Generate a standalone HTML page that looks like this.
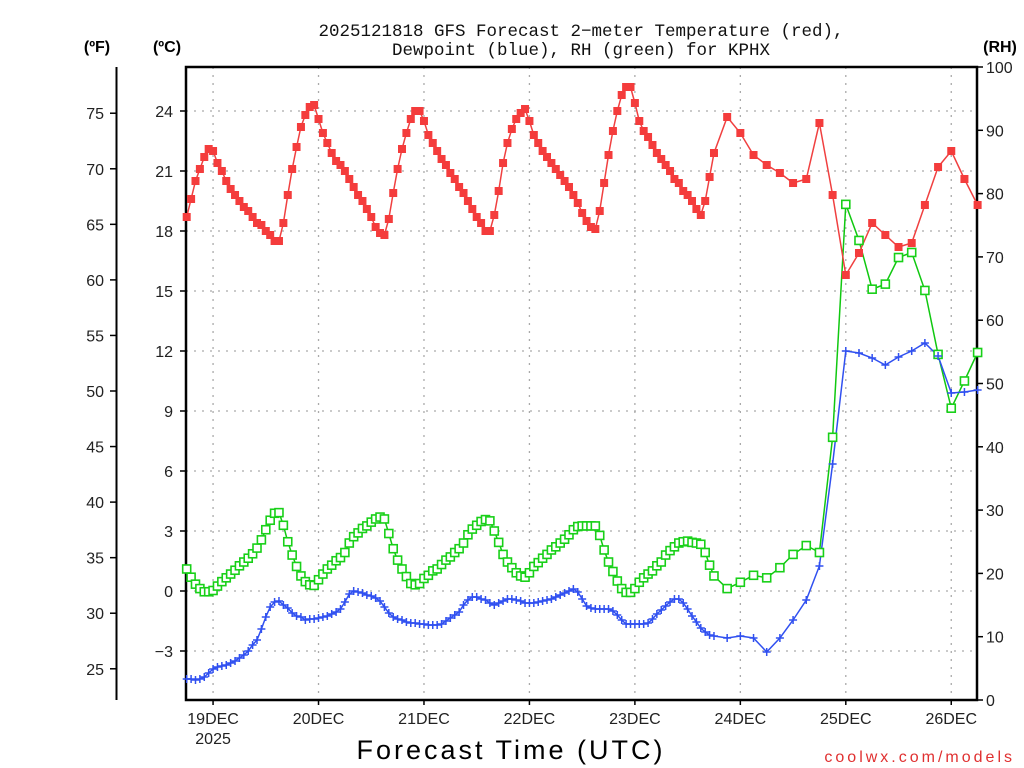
<!DOCTYPE html>
<html><head><meta charset="utf-8"><style>
html,body{margin:0;padding:0;background:#fff;}
svg{display:block;font-family:"Liberation Sans","DejaVu Sans",sans-serif;}
</style></head><body>
<svg id="chart" width="1024" height="768" viewBox="0 0 1024 768" xmlns="http://www.w3.org/2000/svg">
<text x="581" y="36" text-anchor="middle" font-size="17.5" fill="#111" font-family="Liberation Mono, monospace">2025121818 GFS Forecast 2−meter Temperature (red),</text>
<text x="581" y="55" text-anchor="middle" font-size="17.5" fill="#111" font-family="Liberation Mono, monospace">Dewpoint (blue), RH (green) for KPHX</text>
<text x="97" y="52" text-anchor="middle" font-size="16" font-weight="bold" fill="#000">(ºF)</text>
<text x="167" y="52" text-anchor="middle" font-size="16" font-weight="bold" fill="#000">(ºC)</text>
<text x="1000" y="52" text-anchor="middle" font-size="16" font-weight="bold" fill="#000">(RH)</text>
<text x="511" y="759" text-anchor="middle" font-size="27" fill="#000" letter-spacing="3">Forecast Time (UTC)</text>
<text x="1015" y="762" text-anchor="end" font-size="16" fill="#e03030" letter-spacing="3">coolwx.com/models</text>
<g id="grid"></g><g id="axes"></g><g id="series"></g>
</svg>
<script>
// Data: hourly h=0..120 from 2025-12-18 18Z, then every 3h to h=180
const tempC = [18.7,19.6,20.5,21.1,21.7,22.1,22.0,21.4,21.0,20.5,20.1,19.8,19.5,19.2,19.0,18.7,18.4,18.3,18.0,17.8,17.5,17.5,18.4,19.8,21.1,22.2,23.2,23.8,24.2,24.3,23.6,22.9,22.4,21.9,21.5,21.3,21.0,20.6,20.2,19.8,19.5,19.1,18.7,18.2,17.9,17.8,18.6,19.9,21.1,22.1,22.9,23.6,24.0,24.0,23.5,22.8,22.4,22.0,21.6,21.3,20.9,20.6,20.2,
19.9,19.5,19.1,18.7,18.4,18.0,18.0,18.8,20.0,21.4,22.4,23.1,23.6,23.9,24.1,23.5,22.8,22.4,22.0,21.7,21.4,21.1,20.8,20.5,20.2,19.8,19.4,18.9,18.5,18.2,18.1,19.0,20.4,21.8,23.0,24.0,24.8,25.2,25.2,24.4,23.5,23.0,22.7,22.3,21.9,21.6,21.3,21.0,20.6,20.4,20.0,19.8,19.5,19.1,18.8,19.5,20.7,21.9,
23.7,22.9,21.8,21.3,20.9,20.4,20.6,23.4,19.8,15.8,16.9,18.4,17.8,17.2,17.4,19.3,21.2,22.0,20.6,19.3];
const dewC = [-4.4,-4.4,-4.45,-4.4,-4.3,-4.1,-3.9,-3.8,-3.75,-3.7,-3.6,-3.5,-3.35,-3.2,-3.0,-2.7,-2.45,-1.9,-1.3,-0.8,-0.55,-0.5,-0.7,-0.85,-1.1,-1.25,-1.3,-1.45,-1.4,-1.4,-1.35,-1.3,-1.25,-1.15,-1.05,-0.9,-0.55,-0.15,0.0,-0.05,-0.1,-0.2,-0.25,-0.35,-0.5,-0.8,-1.1,-1.3,-1.4,-1.45,-1.55,-1.6,-1.6,-1.65,-1.65,-1.7,-1.7,-1.7,-1.65,-1.5,-1.35,-1.2,-1.05,
-0.7,-0.45,-0.3,-0.3,-0.4,-0.45,-0.6,-0.7,-0.6,-0.5,-0.4,-0.4,-0.45,-0.5,-0.6,-0.6,-0.6,-0.55,-0.5,-0.45,-0.4,-0.3,-0.2,-0.1,0.0,0.1,-0.05,-0.4,-0.75,-0.85,-0.9,-0.9,-0.9,-0.9,-1.0,-1.2,-1.45,-1.65,-1.65,-1.65,-1.65,-1.65,-1.6,-1.4,-1.15,-0.95,-0.75,-0.55,-0.4,-0.4,-0.6,-0.9,-1.25,-1.55,-1.85,-2.05,-2.2,-2.25,
-2.35,-2.25,-2.35,-3.05,-2.35,-1.45,-0.45,1.25,6.35,12.0,11.9,11.65,11.3,11.7,12.0,12.4,11.75,9.9,9.95,10.05];
const rhPct = [20.7,19.4,18.3,17.6,17.1,17.1,17.3,18.0,18.7,19.3,19.9,20.5,21.2,21.8,22.4,23.1,24.0,25.3,26.9,28.4,29.5,29.6,27.6,25.0,22.9,21.1,19.6,18.7,18.2,18.1,19.0,19.9,20.7,21.3,22.0,22.5,23.3,24.8,25.8,26.4,27.1,27.5,28.1,28.6,28.9,28.6,26.3,23.9,22.1,20.7,19.5,18.4,18.2,18.4,19.2,19.7,20.4,20.7,21.4,22.1,22.6,23.3,
23.9,24.8,26.1,27.0,27.6,28.2,28.5,28.3,26.7,24.9,23.0,21.8,20.9,20.1,19.6,19.4,20.1,21.1,21.7,22.4,23.0,23.7,24.2,24.8,25.4,26.1,26.9,27.4,27.5,27.5,27.5,27.5,26.0,23.7,21.8,20.3,18.8,17.6,17.0,17.0,17.6,18.6,19.3,19.9,20.4,21.2,21.8,22.9,23.6,24.2,24.8,25.0,25.1,24.9,24.8,24.6,23.3,21.3,19.6,
17.6,18.6,19.7,19.3,20.9,23.0,24.4,23.3,41.5,78.3,72.6,64.9,65.7,69.9,70.7,64.7,54.6,46.1,50.4,54.9];
const hours = [];
for (let h = 0; h <= 120; h++) hours.push(h);
for (let h = 123; h <= 180; h += 3) hours.push(h);
const dayLabels = ['19DEC','20DEC','21DEC','22DEC','23DEC','24DEC','25DEC','26DEC'];
const celsiusTicks = [-3,0,3,6,9,12,15,18,21,24];
const fahrenheitTicks = [25,30,35,40,45,50,55,60,65,70,75];
const rhTicks = [0,10,20,30,40,50,60,70,80,90,100];

const NS='http://www.w3.org/2000/svg';
const L=186, R=977, T=67, B=700;
const xOf = h => 186.7 + h*4.394;
const yC = c => 591 - 20*c;
const yF = f => yC((f-32)*5/9);
const yRH = r => B - (B-T)*r/100;
function mk(tag, attrs, parent){const e=document.createElementNS(NS,tag);for(const k in attrs)e.setAttribute(k,attrs[k]);parent.appendChild(e);return e;}
const grid=document.getElementById('grid'), axes=document.getElementById('axes'), series=document.getElementById('series');

celsiusTicks.forEach(c=>{const g=mk('line',{x1:L,x2:R,y1:yC(c),y2:yC(c),stroke:'#aaa','stroke-width':1.3,'stroke-dasharray':'2 6'},grid);

});
dayLabels.forEach((d,i)=>{const x=xOf(6+24*i);const g=mk('line',{x1:x,x2:x,y1:T,y2:B,stroke:'#aaa','stroke-width':1.3,'stroke-dasharray':'2 6'},grid);


const t=mk('text',{x:x,y:724,'text-anchor':'middle','font-size':16,fill:'#222'},axes);t.textContent=d;


mk('line',{x1:x,x2:x,y1:B,y2:B+5,stroke:'#000','stroke-width':1.5},axes);
});
const yr=mk('text',{x:xOf(6),y:744,'text-anchor':'middle','font-size':16,fill:'#222'},axes);yr.textContent='2025';



const fr=mk('rect',{x:L,y:T,width:R-L,height:B-T,fill:'none',stroke:'#000','stroke-width':2.5},axes);


celsiusTicks.forEach(c=>{const y=yC(c);mk('line',{x1:L-6,x2:L,y1:y,y2:y,stroke:'#000','stroke-width':1.5},axes);
const t=mk('text',{x:173,y:y+6,'text-anchor':'end','font-size':16,fill:'#222'},axes);t.textContent=(c<0?'−':'')+Math.abs(c);

});
const fl=mk('line',{x1:116.5,x2:116.5,y1:T,y2:B,stroke:'#000','stroke-width':2},axes);


fahrenheitTicks.forEach(f=>{const y=yF(f);mk('line',{x1:110,x2:116,y1:y,y2:y,stroke:'#000','stroke-width':1.5},axes);
const t=mk('text',{x:104,y:y+6,'text-anchor':'end','font-size':16,fill:'#222'},axes);t.textContent=f;

});
rhTicks.forEach(r=>{const y=yRH(r);mk('line',{x1:R,x2:R+6,y1:y,y2:y,stroke:'#000','stroke-width':1.5},axes);
const t=mk('text',{x:986,y:y+6,'font-size':16,fill:'#222'},axes);t.textContent=r;

});

function line(vals, yfn, color, name){
  const pts=vals.map((v,i)=>xOf(hours[i]).toFixed(1)+','+yfn(v).toFixed(1)).join(' ');
  const p=mk('polyline',{points:pts,fill:'none',stroke:color,'stroke-width':1.5},series);
  
  
}
line(rhPct,yRH,'#10c810','rh-line');
line(dewC,yC,'#3050f0','dewpoint-line');
line(tempC,yC,'#f04040','temperature-line');
rhPct.forEach((v,i)=>{const x=xOf(hours[i]),y=yRH(v);
const m=mk('rect',{x:x-4,y:y-4,width:8,height:8,fill:'#fff',stroke:'#18d018','stroke-width':1.6},series);

});
dewC.forEach((v,i)=>{const x=xOf(hours[i]),y=yC(v);
const m=mk('path',{d:`M${x-4},${y}H${x+4}M${x},${y-4}V${y+4}`,stroke:'#3050f0','stroke-width':1.5},series);

});
tempC.forEach((v,i)=>{const x=xOf(hours[i]),y=yC(v);
const m=mk('rect',{x:x-4,y:y-4,width:8,height:8,fill:'#f43c3c'},series);

});
</script>
</body></html>
